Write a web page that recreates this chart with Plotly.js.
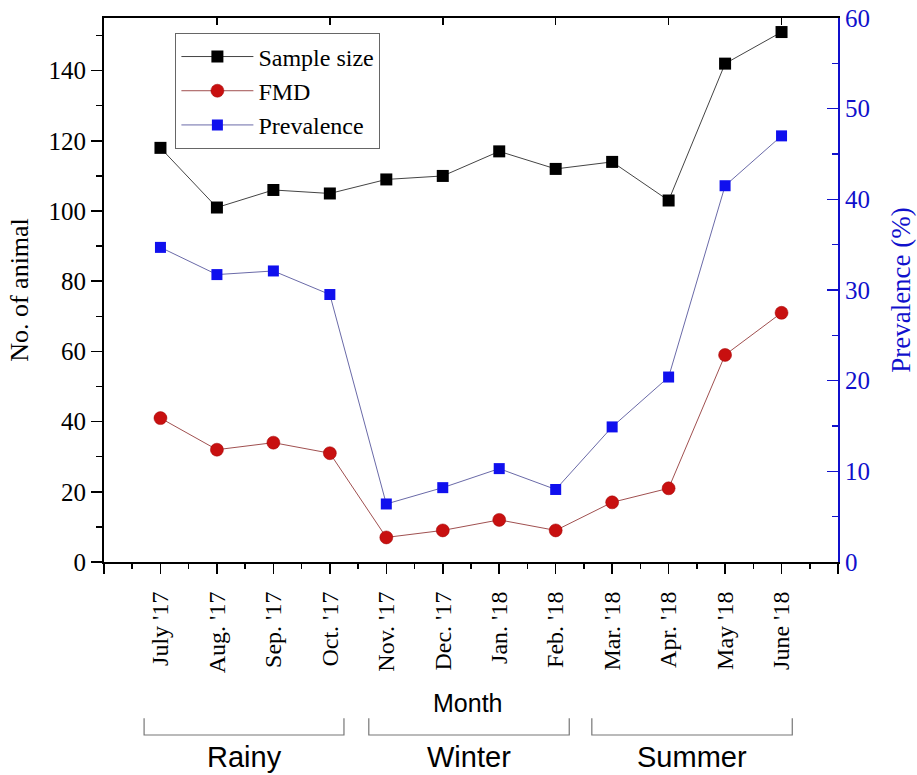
<!DOCTYPE html>
<html>
<head>
<meta charset="utf-8">
<script src="https://cdn.plot.ly/plotly-3.0.1.min.js"></script>
<style>html,body{margin:0;padding:0;background:#fff;}#chart{width:917px;height:775px;}</style>
</head>
<body>
<div id="chart"></div>
<script>
const months = ["July '17","Aug. '17","Sep. '17","Oct. '17","Nov. '17","Dec. '17","Jan. '18","Feb. '18","Mar. '18","Apr. '18","May '18","June '18"];
const monthPos = [1,2,3,4,5,6,7,8,9,10,11,12];
const sampleSize = [118,101,106,105,109,110,117,112,114,103,142,151];
const fmd = [41,32,34,31,7,9,12,9,17,21,59,71];
const prevalence = [34.7,31.7,32.1,29.5,6.4,8.2,10.3,8.0,14.9,20.4,41.5,47.0];
const seasons = ["Rainy","Winter","Summer"];

const serif = "Liberation Serif, Times New Roman, serif";
const sans = "Liberation Sans, Arial, sans-serif";

const traces = [
  {x: monthPos, y: sampleSize, name: "Sample size", type: "scatter", mode: "lines+markers",
   line: {color: "#444444", width: 1}, marker: {symbol: "square", size: 12, color: "#000000"}},
  {x: monthPos, y: fmd, name: "FMD", type: "scatter", mode: "lines+markers",
   line: {color: "#a05050", width: 1}, marker: {symbol: "circle", size: 13, color: "#c81010", line: {color: "#a00000", width: 0.5}}},
  {x: monthPos, y: prevalence, name: "Prevalence", type: "scatter", mode: "lines+markers", yaxis: "y2",
   line: {color: "#6a6aa8", width: 1}, marker: {symbol: "square", size: 11, color: "#1010ee"}},
  {x: [], y: [], xaxis: "x2", yaxis: "y", showlegend: false, hoverinfo: "skip", type: "scatter"}
];

const ticksAll = [0].concat(monthPos, [13]);
const textAll = [""].concat(months, [""]);

const shapes = [];
const annotations = [];
const brackets = [[0.71, 4.25], [4.69, 8.24], [8.64, 12.19]];
brackets.forEach((b, i) => {
  shapes.push({type: "path", xref: "x", yref: "paper",
    path: `M ${b[0]},-0.287 L ${b[0]},-0.318 L ${b[1]},-0.318 L ${b[1]},-0.287`,
    line: {color: "#777777", width: 1.2}});
  annotations.push({text: seasons[i], xref: "x", yref: "paper", x: (b[0] + b[1]) / 2, y: -0.358,
    showarrow: false, xanchor: "center", yanchor: "middle", font: {family: sans, size: 29, color: "#000"}});
});
annotations.push({text: "Month", xref: "paper", yref: "paper", x: 0.495, y: -0.259,
  showarrow: false, xanchor: "center", yanchor: "middle", font: {family: sans, size: 25, color: "#000"}});

const layout = {
  width: 917, height: 775,
  margin: {l: 104, r: 79, t: 18, b: 213},
  paper_bgcolor: "#fff", plot_bgcolor: "#fff",
  showlegend: true,
  legend: {x: 0.097, y: 0.972, xanchor: "left", yanchor: "top", bgcolor: "rgba(255,255,255,0)",
    bordercolor: "#666", borderwidth: 1.2, font: {family: serif, size: 24, color: "#000"},
    tracegroupgap: 0, itemwidth: 72},
  xaxis: {range: [0, 13], tickmode: "array", tickvals: ticksAll, ticktext: textAll, tickangle: -90,
    ticks: "outside", ticklen: 10, tickwidth: 1.5, tickcolor: "#000", ticklabelstandoff: 8,
    minor: {tick0: 0.5, dtick: 1, ticks: "outside", ticklen: 5, tickwidth: 1.5, tickcolor: "#000"},
    showline: true, linecolor: "#000", linewidth: 2, showgrid: false, zeroline: false,
    tickfont: {family: serif, size: 24, color: "#000"}},
  xaxis2: {range: [0, 13], overlaying: "x", side: "top", anchor: "y", tickmode: "array",
    tickvals: [2, 4, 6, 8, 10, 12], ticks: "inside", ticklen: 7, tickwidth: 1.5, tickcolor: "#000",
    showticklabels: false, showline: true, linecolor: "#000", linewidth: 2, showgrid: false, zeroline: false},
  yaxis: {range: [0, 155], tickmode: "linear", tick0: 0, dtick: 20, ticks: "outside", ticklen: 11,
    tickwidth: 1.5, tickcolor: "#000",
    minor: {tick0: 0, dtick: 10, ticks: "outside", ticklen: 6, tickwidth: 1.5, tickcolor: "#000"},
    showline: true, linecolor: "#000", linewidth: 2, showgrid: false, zeroline: false,
    tickfont: {family: serif, size: 25, color: "#000"},
    title: {text: "No. of animal", font: {family: serif, size: 26, color: "#000"}, standoff: 12}},
  yaxis2: {range: [0, 60], overlaying: "y", side: "right", anchor: "x", tickmode: "linear", tick0: 0, dtick: 10,
    ticks: "inside", ticklen: 11, tickwidth: 1.5, tickcolor: "#1010cc",
    minor: {tick0: 0, dtick: 5, ticks: "inside", ticklen: 6, tickwidth: 1.5, tickcolor: "#1010cc"},
    showline: true, linecolor: "#1010cc", linewidth: 2, showgrid: false, zeroline: false,
    tickfont: {family: serif, size: 25, color: "#1010cc"},
    title: {text: "Prevalence (%)", font: {family: serif, size: 27, color: "#1010cc"}, standoff: 22}},
  shapes: shapes,
  annotations: annotations
};

Plotly.newPlot("chart", traces, layout, {displayModeBar: false, staticPlot: true});
</script>
</body>
</html>
